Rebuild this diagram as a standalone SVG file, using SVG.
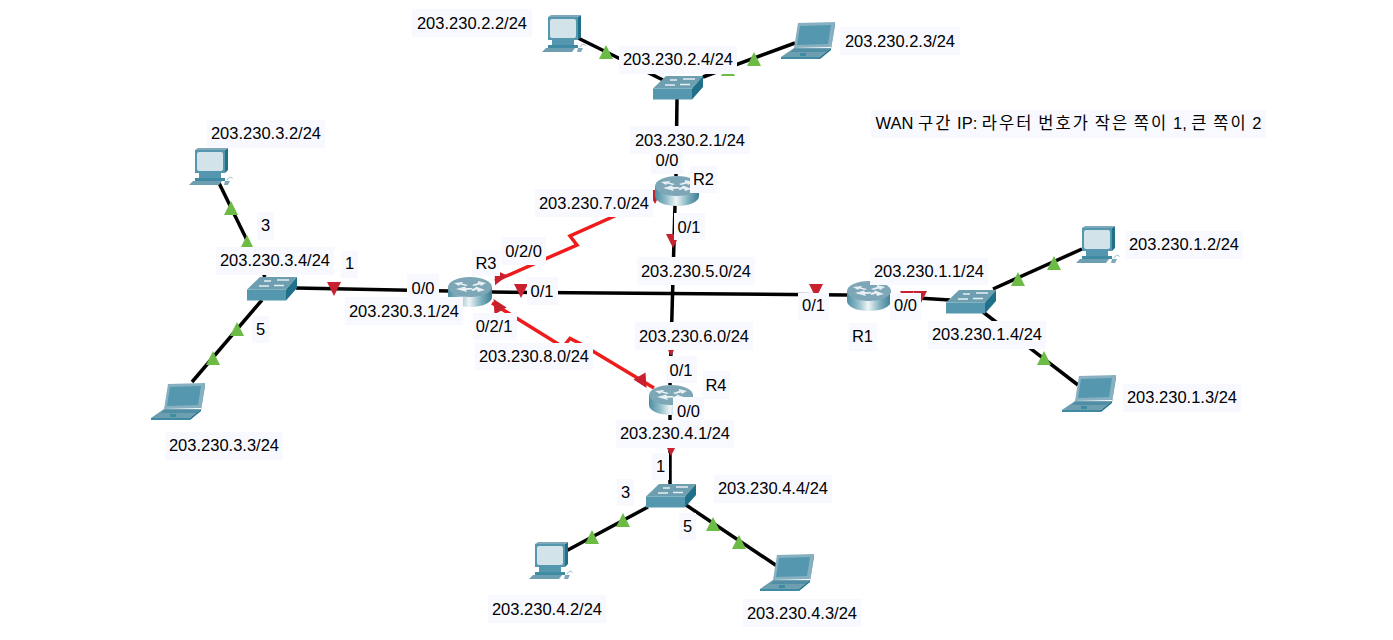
<svg xmlns="http://www.w3.org/2000/svg" width="1393" height="640" viewBox="0 0 1393 640">
<style>
.bg{fill:#f8f9ff}
.t{font-family:"Liberation Sans",Arial,"Noto Sans CJK KR",sans-serif;font-size:16.500px;fill:#000;text-anchor:middle}
.h{letter-spacing:2.100px}
.k{fill:none;stroke:#000;stroke-width:3.5}
.s{fill:none;stroke:#ee1c1c;stroke-width:3.5;stroke-linejoin:miter}
.g{fill:#6cbb45}
.r{fill:#c8202f}
</style>
<defs>
<linearGradient id="rg" x1="0" x2="1" y1="0" y2="0">
<stop offset="0" stop-color="#4d8ea3"/><stop offset=".25" stop-color="#8fbcc8"/><stop offset=".48" stop-color="#eef5f6"/><stop offset=".75" stop-color="#7fb0be"/><stop offset="1" stop-color="#3d7f94"/>
</linearGradient>
<polygon id="up" points="0,-7 7,7 -7,7"/>
<polygon id="dn" points="-7,-7 7,-7 0,7"/>
<g id="router">
<path d="M0,10V20C0,26 10,30 22,30S44,26 44,20V10Z" fill="url(#rg)"/>
<ellipse cx="22" cy="10" rx="22" ry="10" fill="#7da6b6"/>
<path d="M6,6L15,5L14,6.500L20,8L18,9L12,7.500L11,9ZM38,6L30,4L30,6L24,8L26,9L32,7.500L33,9ZM8,12L17,9.500L18,11L24,11L24,12.500L18,13L19,15ZM37,13L28,9.500L27,11L22,12.500L25,14L29,12.500L30,15Z" fill="#e8f0f3"/>
</g>
<g id="switch">
<polygon points="13,0 50,0 39,12.500 0,12.500" fill="#6d9fb0"/>
<polygon points="0,12.500 39,12.500 39,23.500 0,23.500" fill="#5597ae"/>
<polygon points="39,12.500 50,0 50,11 39,23.500" fill="#1f7088"/>
<path d="M17,4H24M30,3H42M12,9H22M27,8.500H37" stroke="#e6eff2" stroke-width="1.300"/>
</g>
<g id="pc">
<polygon points="6,2 36,2 36,25 6,25" fill="#5597ae"/>
<polygon points="36,2 39,0 39,22 36,25" fill="#1f7088"/>
<polygon points="6,2 9,0 39,0 36,2" fill="#7fa9b8"/>
<rect x="8" y="4" width="26" height="19" rx="2" fill="#d3e3ea"/>
<polygon points="10,25 32,25 32,30 10,30" fill="#5597ae"/>
<polygon points="6,30 36,30 36,33 6,33" fill="#3f8ba3"/>
<polygon points="4,33 33,33 30,37 0,37" fill="#6d9fb0"/>
<polygon points="36,33 41,33 39,37 35,37" fill="#7fa9b8"/>
<path d="M38,32C40,28 44,29 43,31" fill="none" stroke="#9bb9c4"/>
</g>
<g id="laptop">
<polygon points="17,1 54,0 50,25 13,26" fill="#87b1c0"/>
<polygon points="19,4 50,3 47,22 16,23" fill="#5597ae"/>
<polygon points="54,0 54,3 50,27 50,25" fill="#1f7088"/>
<polygon points="13,26 50,26 39,35 0,35" fill="#6d9fb0"/>
<polygon points="13,27 48,27 45,30 10,30" fill="#4f8ea4"/>
<rect x="19" y="31" width="6" height="3" fill="#3f8ba3"/>
<polygon points="50,26 50,28 39,37 39,35" fill="#1f7088"/>
<polygon points="0,35 39,35 39,37 0,37" fill="#3f8ba3"/>
</g>
</defs>
<rect width="1393" height="640" fill="#fff"/>

<g id="connectors">
<path class="k" d="M578,38L663,80"/>
<path class="k" d="M795,43L703,77"/>
<path class="k" d="M677,99L676,176"/>
<path class="k" d="M675,205L670,385"/>
<path class="k" d="M296,288L448,291"/>
<path class="k" d="M492,292L847,295"/>
<path class="k" d="M885,296L950,300"/>
<path class="k" d="M993,289L1082,249"/>
<path class="k" d="M983,312L1078,385"/>
<path class="k" d="M219,183L265,277"/>
<path class="k" d="M262,300L192,382"/>
<path class="k" d="M670,415L670,484"/>
<path class="k" d="M648,507L566,551"/>
<path class="k" d="M686,505L777,566"/>
<path class="s" d="M655,198L570,236L577,245L495,281"/>
<path class="s" d="M492,303L563,347L570,338.500L581,344L654,388"/>
<use href="#up" class="g" x="606" y="52"/>
<use href="#up" class="g" x="754" y="59"/>
<use href="#up" class="g" x="728" y="69"/>
<use href="#up" class="g" x="231" y="208"/>
<use href="#up" class="g" x="247" y="242"/>
<use href="#up" class="g" x="237" y="329"/>
<use href="#up" class="g" x="213" y="358"/>
<use href="#up" class="g" x="1018" y="279"/>
<use href="#up" class="g" x="1054" y="263"/>
<use href="#up" class="g" x="1044" y="358"/>
<use href="#up" class="g" x="623" y="520"/>
<use href="#up" class="g" x="592" y="537"/>
<use href="#up" class="g" x="713" y="524"/>
<use href="#up" class="g" x="739" y="542"/>
<use href="#dn" class="r" x="334" y="289"/>
<use href="#dn" class="r" x="521" y="291"/>
<use href="#dn" class="r" x="816" y="291"/>
<use href="#dn" class="r" x="907" y="298"/>
<use href="#dn" class="r" x="920" y="298"/>
<use href="#dn" class="r" x="673" y="241"/>
<use href="#dn" class="r" x="671" y="349"/>
<use href="#dn" class="r" x="671" y="449"/>
<use href="#dn" class="r" x="655" y="197"/>
<use href="#dn" class="r" transform="translate(498,279) rotate(25)"/>
<use href="#up" class="r" transform="translate(497,305) rotate(-30)"/>
<use href="#dn" class="r" transform="translate(643,382) rotate(-30)"/>
</g>

<g id="R2"><use href="#router" x="655" y="176"/></g>
<g id="R3"><use href="#router" x="448" y="277"/></g>
<g id="R4"><use href="#router" x="649" y="385"/></g>
<g id="R1"><use href="#router" x="847" y="281"/></g>
<g id="SW2"><use href="#switch" x="653" y="76"/></g>
<g id="SW3"><use href="#switch" x="247" y="277"/></g>
<g id="SW1"><use href="#switch" x="946" y="290"/></g>
<g id="SW4"><use href="#switch" x="646" y="484"/></g>
<g id="PC2"><use href="#pc" x="542" y="15"/></g>
<g id="PC3"><use href="#pc" x="189" y="148"/></g>
<g id="PC1"><use href="#pc" x="1076" y="226"/></g>
<g id="PC4"><use href="#pc" x="529" y="542"/></g>
<g id="Laptop2"><use href="#laptop" x="781" y="22"/></g>
<g id="Laptop3"><use href="#laptop" x="151" y="383"/></g>
<g id="Laptop1"><use href="#laptop" x="1062" y="375"/></g>
<g id="Laptop4"><use href="#laptop" x="760" y="554"/></g>

<g id="labels">
<rect class="bg" x="412" y="9" width="120" height="28"/><text class="t" x="472" y="29">203.230.2.2/24</text>
<rect class="bg" x="840" y="27" width="120" height="28"/><text class="t" x="900" y="47">203.230.2.3/24</text>
<rect class="bg" x="619" y="46" width="118" height="28"/><text class="t" x="678" y="65">203.230.2.4/24</text>
<rect class="bg" x="630" y="126" width="120" height="28"/><text class="t" x="690" y="146">203.230.2.1/24</text>
<rect class="bg" x="651" y="147" width="32" height="27"/><text class="t" x="667" y="166">0/0</text>
<rect class="bg" x="690" y="166" width="27" height="27"/><text class="t" x="703.500" y="185">R2</text>
<rect class="bg" x="535" y="189" width="118" height="28"/><text class="t" x="594" y="209">203.230.7.0/24</text>
<rect class="bg" x="674" y="213" width="31" height="27"/><text class="t" x="689" y="233">0/1</text>
<rect class="bg" x="637" y="257" width="118" height="28"/><text class="t" x="696" y="277">203.230.5.0/24</text>
<rect class="bg" x="501" y="237" width="45" height="28"/><text class="t" x="523.500" y="257">0/2/0</text>
<rect class="bg" x="472" y="250" width="28" height="26"/><text class="t" x="486" y="269">R3</text>
<rect class="bg" x="407" y="274" width="32" height="28"/><text class="t" x="423" y="294">0/0</text>
<rect class="bg" x="527" y="277" width="31" height="28"/><text class="t" x="542" y="297">0/1</text>
<rect class="bg" x="345" y="297" width="118" height="28"/><text class="t" x="404" y="317">203.230.3.1/24</text>
<rect class="bg" x="473" y="313" width="44" height="27"/><text class="t" x="494" y="332">0/2/1</text>
<rect class="bg" x="475" y="343" width="118" height="27"/><text class="t" x="534" y="362">203.230.8.0/24</text>
<rect class="bg" x="635" y="322" width="118" height="28"/><text class="t" x="694" y="342">203.230.6.0/24</text>
<rect class="bg" x="666" y="356" width="31" height="27"/><text class="t" x="681" y="376">0/1</text>
<rect class="bg" x="703" y="371" width="27" height="28"/><text class="t" x="716" y="391">R4</text>
<rect class="bg" x="673" y="397" width="31" height="28"/><text class="t" x="688.500" y="417">0/0</text>
<rect class="bg" x="616" y="420" width="118" height="28"/><text class="t" x="675" y="439">203.230.4.1/24</text>
<rect class="bg" x="652" y="453" width="17" height="27"/><text class="t" x="660.500" y="472">1</text>
<rect class="bg" x="617" y="479" width="17" height="27"/><text class="t" x="625.500" y="498">3</text>
<rect class="bg" x="714" y="475" width="118" height="28"/><text class="t" x="773" y="494">203.230.4.4/24</text>
<rect class="bg" x="679" y="513" width="17" height="27"/><text class="t" x="687.500" y="532">5</text>
<rect class="bg" x="488" y="595" width="118" height="28"/><text class="t" x="547" y="615">203.230.4.2/24</text>
<rect class="bg" x="743" y="599" width="118" height="28"/><text class="t" x="802" y="619">203.230.4.3/24</text>
<rect class="bg" x="207" y="120" width="118" height="28"/><text class="t" x="266" y="139">203.230.3.2/24</text>
<rect class="bg" x="257" y="212" width="17" height="28"/><text class="t" x="265.500" y="231">3</text>
<rect class="bg" x="216" y="247" width="118" height="28"/><text class="t" x="275" y="266">203.230.3.4/24</text>
<rect class="bg" x="341" y="251" width="17" height="27"/><text class="t" x="349.500" y="269">1</text>
<rect class="bg" x="252" y="316" width="17" height="27"/><text class="t" x="260.500" y="335">5</text>
<rect class="bg" x="165" y="432" width="118" height="28"/><text class="t" x="224" y="451">203.230.3.3/24</text>
<rect class="bg" x="870" y="258" width="118" height="27"/><text class="t" x="929" y="277">203.230.1.1/24</text>
<rect class="bg" x="798" y="293" width="31" height="27"/><text class="t" x="813.500" y="311">0/1</text>
<rect class="bg" x="890" y="293" width="31" height="27"/><text class="t" x="905.500" y="311">0/0</text>
<rect class="bg" x="849" y="323" width="28" height="28"/><text class="t" x="862.500" y="342">R1</text>
<rect class="bg" x="928" y="321" width="118" height="28"/><text class="t" x="987" y="340">203.230.1.4/24</text>
<rect class="bg" x="1125" y="231" width="118" height="28"/><text class="t" x="1184" y="250">203.230.1.2/24</text>
<rect class="bg" x="1123" y="384" width="118" height="28"/><text class="t" x="1182" y="403">203.230.1.3/24</text>
<rect class="bg" x="871" y="110" width="395" height="28"/><text class="t" x="1068.500" y="129">WAN <tspan class="h">구간</tspan> IP: <tspan class="h">라우터</tspan> <tspan class="h">번호가</tspan> <tspan class="h">작은</tspan> <tspan class="h">쪽이</tspan> 1, <tspan class="h">큰</tspan> <tspan class="h">쪽이</tspan> 2</text>
</g>
</svg>
